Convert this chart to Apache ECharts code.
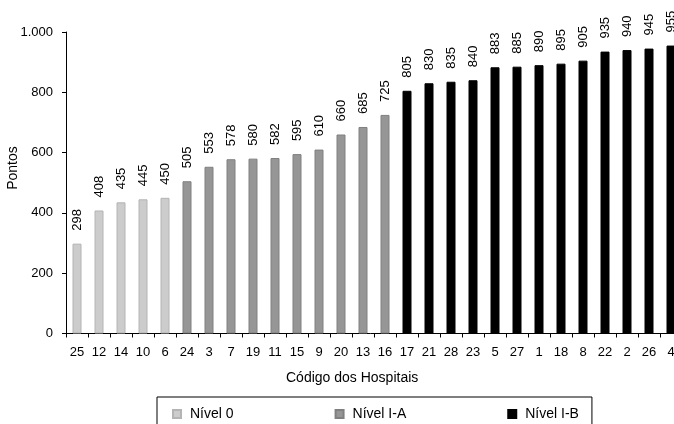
<!DOCTYPE html>
<html>
<head>
<meta charset="utf-8">
<script src="https://cdn.jsdelivr.net/npm/echarts@6/dist/echarts.min.js"></script>
<style>
  html, body { margin: 0; padding: 0; background: #fff; }
  #myEcharts { width: 674px; height: 424px; }
</style>
</head>
<body>
<div id="myEcharts"></div>
<script>
// códigos dos hospitais por nível
const codigos0 = ['25', '12', '14', '10', '6'];
const codigosIA = ['24', '3', '7', '19', '11', '15', '9', '20', '13', '16'];
const codigosIB = ['17', '21', '28', '23', '5', '27', '1', '18', '8', '22', '2', '26', '4'];

// pontos
const nivel0 = [298, 408, 435, 445, 450];
const nivelIA = [505, 553, 578, 580, 582, 595, 610, 660, 685, 725];
const nivelIB = [805, 830, 835, 840, 883, 885, 890, 895, 905, 935, 940, 945, 955];

const yTicks = [0, 200, 400, 600, 800, 1000];

const categorias = codigos0.concat(codigosIA, codigosIB);
const total = categorias.length;

// preenche com '-' fora do grupo
function pad(values, start) {
    let out = [];
    for (let i = 0; i < total; i++) {
        let j = i - start;
        out.push(j >= 0 && j < values.length ? values[j] : '-');
    }
    return out;
}

const fonte = '"Liberation Sans", Arial, sans-serif';

const labelCfg = {
    show: true,
    position: 'top',
    rotate: 90,
    align: 'left',
    verticalAlign: 'middle',
    distance: 13,
    fontSize: 13,
    color: '#000',
    fontFamily: fonte
};

let chart = echarts.init(document.getElementById('myEcharts'));
chart.setOption({
    animation: false,
    textStyle: { fontFamily: fonte },
    grid: { left: 66, top: 32, width: 616, height: 301.5, containLabel: false, outerBoundsMode: 'none' },
    title: {
        text: 'Código dos Hospitais',
        left: 286,
        top: 371,
        padding: 0,
        textStyle: { fontSize: 14, fontWeight: 'normal', color: '#000', fontFamily: fonte }
    },
    graphic: [{
        type: 'text',
        x: 13,
        y: 168,
        rotation: Math.PI / 2,
        style: {
            text: 'Pontos',
            align: 'center',
            verticalAlign: 'middle',
            fontSize: 14,
            fontFamily: fonte,
            fill: '#000'
        }
    }],
    legend: {
        left: 157,
        top: 397,
        orient: 'horizontal',
        itemWidth: 8,
        itemHeight: 8,
        itemGap: 101,
        icon: 'rect',
        borderColor: '#000',
        borderWidth: 1,
        padding: [10, 13, 20, 15],
        textStyle: { fontSize: 14, color: '#000', fontFamily: fonte, padding: [0, 0, 0, 4], lineHeight: 14 },
        data: ['Nível 0', 'Nível I-A', 'Nível I-B']
    },
    xAxis: {
        type: 'category',
        data: categorias,
        axisLine: { show: true, lineStyle: { color: '#000', width: 1 } },
        axisTick: { show: true, length: 4, lineStyle: { color: '#000' } },
        axisLabel: { fontSize: 13, color: '#000', margin: 12, interval: 0 },
        splitLine: { show: false }
    },
    yAxis: {
        type: 'value',
        min: yTicks[0],
        max: yTicks[yTicks.length - 1],
        interval: 200,
        axisLine: { show: true, lineStyle: { color: '#000', width: 1 } },
        axisTick: { show: true, length: 4, lineStyle: { color: '#000' } },
        axisLabel: {
            fontSize: 13,
            color: '#000',
            margin: 13,
            formatter: v => String(v).replace(/\B(?=(\d{3})+(?!\d))/g, '.')
        },
        splitLine: { show: false }
    },
    series: [
        {
            name: 'Nível 0',
            type: 'bar',
            stack: 'p',
            barWidth: 9,
            data: pad(nivel0, 0),
            itemStyle: { color: '#cccccc', borderColor: '#b4b4b4', borderWidth: 1 },
            label: labelCfg
        },
        {
            name: 'Nível I-A',
            type: 'bar',
            stack: 'p',
            barWidth: 9,
            data: pad(nivelIA, codigos0.length),
            itemStyle: { color: '#969696', borderColor: '#808080', borderWidth: 1 },
            label: labelCfg
        },
        {
            name: 'Nível I-B',
            type: 'bar',
            stack: 'p',
            barWidth: 9,
            data: pad(nivelIB, codigos0.length + codigosIA.length),
            itemStyle: { color: '#000000', borderColor: '#000000', borderWidth: 1 },
            label: labelCfg
        }
    ]
});
</script>
</body>
</html>
